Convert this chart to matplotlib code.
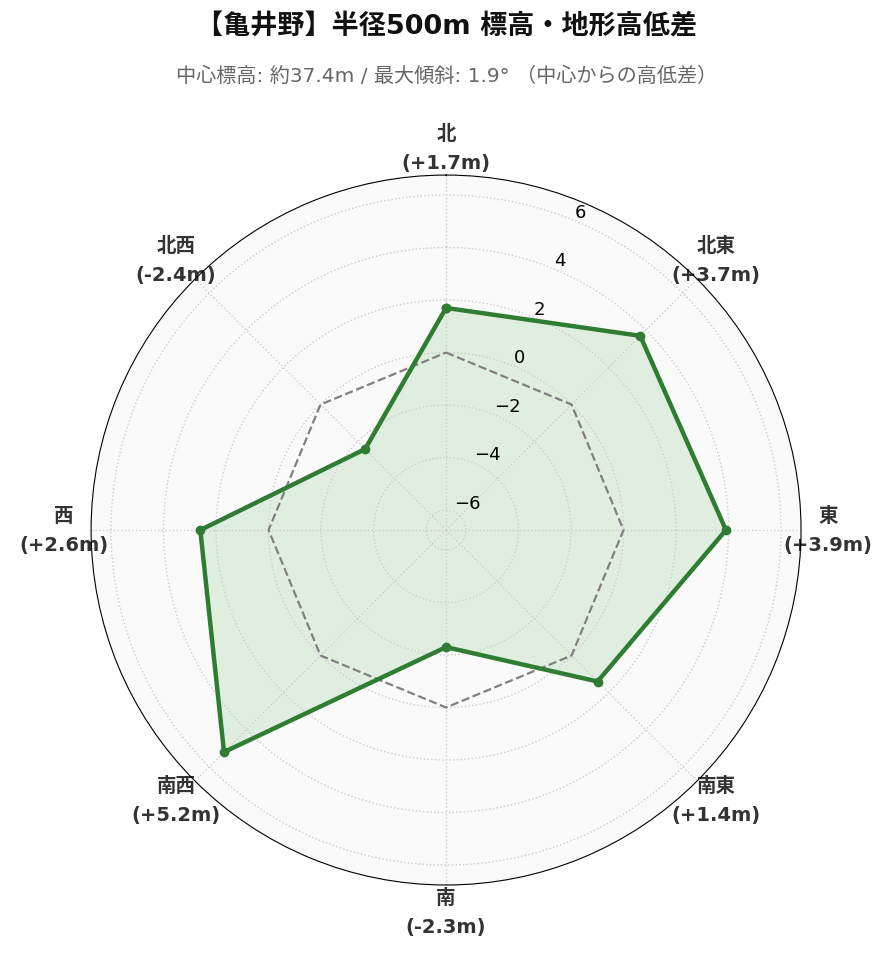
import numpy as np
import matplotlib
matplotlib.use('Agg')
import matplotlib.pyplot as plt

plt.rcParams['font.family'] = ['DejaVu Sans', 'Noto Sans CJK JP']

directions = ['北', '北東', '東', '南東', '南', '南西', '西', '北西']
diffs = [1.7, 3.7, 3.9, 1.4, -2.3, 5.2, 2.6, -2.4]
r_ticks = [-6, -4, -2, 0, 2, 4, 6]

n = len(directions)
angles = np.linspace(0, 2 * np.pi, n, endpoint=False)
ang_closed = np.append(angles, angles[0])
vals_closed = np.append(diffs, diffs[0])
lim = max(abs(v) for v in diffs) * 1.3

fig = plt.figure(figsize=(8.93, 9.62), dpi=100)
ax = fig.add_axes([0.102, 0.079, 0.795, 0.738], projection='polar')
ax.set_facecolor('#fafafa')
ax.set_theta_zero_location('N')
ax.set_theta_direction(-1)
ax.set_ylim(-lim, lim)

# 0m line
ax.plot(ang_closed, np.zeros(n + 1), color='gray', linestyle='--', linewidth=1.6)

ax.plot(ang_closed, vals_closed, color='#2e7d32', linewidth=3.2, marker='o', markersize=6)
ax.fill(ang_closed, vals_closed, color='#4caf50', alpha=0.15)

labels = [f'{d}\n({v:+.1f}m)' for d, v in zip(directions, diffs)]
ax.set_xticks(angles)
ax.set_xticklabels(labels, fontsize=14, fontweight='bold', color='#333333', linespacing=1.65)
ax.tick_params(axis='x', pad=9)
ax.set_yticks(r_ticks)
ax.tick_params(axis='y', labelsize=13)
ax.grid(color='#cccccc', linestyle=':', linewidth=1.0)
ax.spines['polar'].set_color('black')

fig.text(0.5, 0.971, '【亀井野】半径500m 標高・地形高低差', ha='center', va='center',
         fontsize=19.5, fontweight='bold', color='#111111')
fig.text(0.5, 0.921, '中心標高: 約37.4m / 最大傾斜: 1.9° （中心からの高低差）', ha='center', va='center',
         fontsize=14.5, color='#666666')

fig.savefig('out.png', dpi=100)
